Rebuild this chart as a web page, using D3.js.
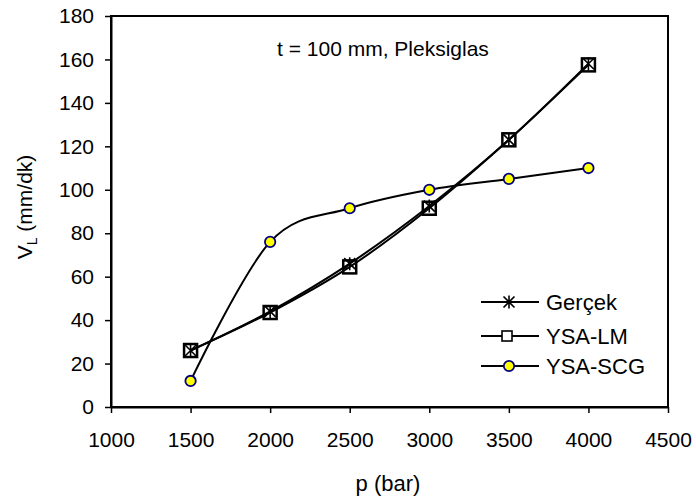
<!DOCTYPE html>
<html><head><meta charset="utf-8">
<script src="https://cdn.jsdelivr.net/npm/d3@7"></script>
<style>body{margin:0;background:#fff}svg{display:block}text{font-family:"Liberation Sans",Arial,sans-serif}</style>
</head><body><svg id="c" width="696" height="501"></svg>
<script>
const pressures = [1500, 2000, 2500, 3000, 3500, 4000];
const gercek = [26, 44, 66, 92.5, 123, 158];
const ysaLM = [26, 43.5, 64.5, 91.5, 123, 157.5];
const ysaSCG = [12, 76, 91.5, 100, 105, 110];
const xTicks = [1000, 1500, 2000, 2500, 3000, 3500, 4000, 4500];
const yTicks = [0, 20, 40, 60, 80, 100, 120, 140, 160, 180];
const seriesNames = ["Gerçek", "YSA-LM", "YSA-SCG"];
const titleText = "t = 100 mm, Pleksiglas";

const FF = '"Liberation Sans",Arial,sans-serif';
const svg = d3.select("#c");
const L = 111, R = 668, T = 16, B = 407;
const x = d3.scaleLinear().domain([1000, 4500]).range([L, R]);
const y = d3.scaleLinear().domain([0, 180]).range([B, T]);

// frame
svg.append("rect").attr("x", L).attr("y", T).attr("width", R - L).attr("height", B - T)
  .attr("fill", "none").attr("stroke", "#000").attr("stroke-width", 2);

const xa = svg.append("g").attr("transform", `translate(0,${B})`)
  .call(d3.axisBottom(x).tickValues(xTicks).tickFormat(d3.format("d")).tickSizeInner(6).tickSizeOuter(0));
const ya = svg.append("g").attr("transform", `translate(${L},0)`)
  .call(d3.axisLeft(y).tickValues(yTicks).tickFormat(d3.format("d")).tickSizeInner(6).tickSizeOuter(0).tickPadding(11));
[xa, ya].forEach(g => {
  g.select(".domain").attr("stroke-width", 2);
  g.selectAll(".tick line").attr("stroke-width", 1.5);
  g.selectAll(".tick text").attr("font-size", 21).attr("fill", "#000").style("font-family", FF);
});
xa.selectAll(".tick text").attr("dy", null).attr("y", 40);

const line = d3.line().curve(d3.curveCatmullRom.alpha(0)).x((d, i) => x(pressures[i])).y(d => y(d));
const data = [gercek, ysaLM, ysaSCG];
data.forEach(s => {
  svg.append("path").attr("d", line(s)).attr("fill", "none").attr("stroke", "#000").attr("stroke-width", 2);
});

function star(g, cx, cy, r) {
  g.append("path").attr("d",
    `M${cx - r},${cy - r}L${cx + r},${cy + r}M${cx - r},${cy + r}L${cx + r},${cy - r}M${cx},${cy - r - 1}L${cx},${cy + r + 1}`)
    .attr("stroke", "#000").attr("stroke-width", 1.6).attr("fill", "none");
}
function square(g, cx, cy, s, w, fill) {
  g.append("rect").attr("x", cx - s / 2).attr("y", cy - s / 2).attr("width", s).attr("height", s)
    .attr("fill", fill).attr("stroke", "#000").attr("stroke-width", w);
}
function circ(g, cx, cy) {
  g.append("circle").attr("cx", cx).attr("cy", cy).attr("r", 5.2)
    .attr("fill", "#ffff00").attr("stroke", "#000080").attr("stroke-width", 1.8);
}
const mk = svg.append("g");
ysaLM.forEach((v, i) => square(mk, x(pressures[i]), y(v), 13, 2.5, "none"));
gercek.forEach((v, i) => star(mk, x(pressures[i]), y(v), 5.5));
ysaSCG.forEach((v, i) => circ(mk, x(pressures[i]), y(v)));

svg.append("text").attr("x", 277).attr("y", 56).attr("font-size", 21).text(titleText);

// legend
const lg = svg.append("g");
const ly = [302, 336, 366];
seriesNames.forEach((n, i) => {
  lg.append("line").attr("x1", 481).attr("x2", 539).attr("y1", ly[i]).attr("y2", ly[i]).attr("stroke", "#000").attr("stroke-width", 2);
  if (i === 0) star(lg, 509, ly[i], 5.5);
  if (i === 1) square(lg, 507, ly[i], 10, 1.6, "#fff");
  if (i === 2) circ(lg, 509, ly[i]);
  lg.append("text").attr("x", 546).attr("y", ly[i] + 8).attr("font-size", 22).text(n);
});

// axis titles
svg.append("text").attr("x", 388).attr("y", 491).attr("text-anchor", "middle").attr("font-size", 22).text("p (bar)");
const yt = svg.append("text").attr("transform", "translate(32,207) rotate(-90)").attr("text-anchor", "middle").attr("font-size", 21);
yt.append("tspan").text("V");
yt.append("tspan").attr("font-size", 14).attr("dy", 5).text("L");
yt.append("tspan").attr("dy", -5).text(" (mm/dk)");
</script></body></html>
